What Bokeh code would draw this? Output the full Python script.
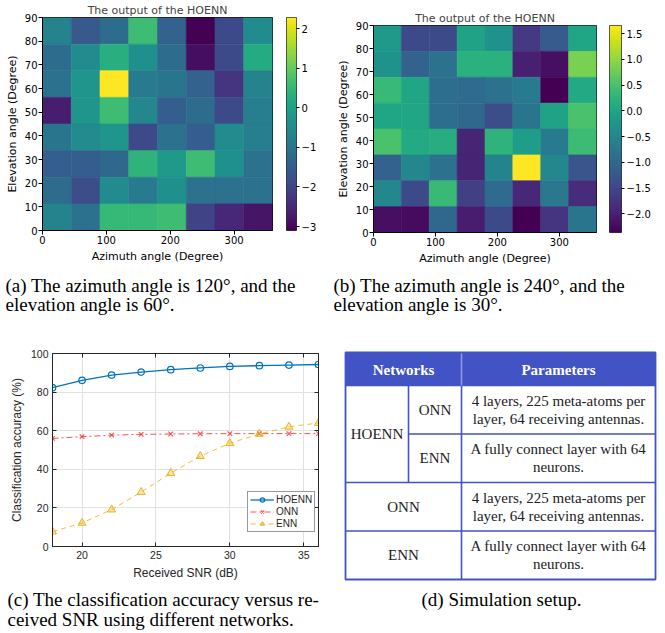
import numpy as np
from bokeh.plotting import figure
from bokeh.models import (ColumnDataSource, LinearColorMapper, FixedTicker,
                          CustomJSTickFormatter, Range1d, LinearAxis, Legend, LegendItem)
from bokeh.layouts import column, row
from bokeh.embed import file_html
from bokeh.resources import INLINE
from bokeh.palettes import Viridis256
from bokeh.core.properties import value

# ---------------- data ----------------
azimuth_bins = 8
elevation_bins = 8
azimuth_max = 360
elevation_max = 90
az_ticks = [0, 100, 200, 300]
el_ticks = [0, 10, 20, 30, 40, 50, 60, 70, 80, 90]

# output of the HOENN, case (a); rows from top (high elevation) to bottom
output_a = [
    [-0.7, -1.6, -1.2, 0.6, -1.4, -3.1, -1.9, -0.5],
    [-1.2, -0.5, 0.3, -0.4, -1.2, -2.9, -1.9, 0.2],
    [-1.1, -0.3, 2.28, -0.9, -1.0, -1.4, -2.3, -0.7],
    [-2.7, -0.3, 0.6, -0.6, -1.5, -1.2, -1.9, -0.8],
    [-1.0, -0.5, -0.3, -1.9, -1.1, -1.5, -0.5, -0.8],
    [-1.5, -1.5, -1.3, 0.4, -0.2, 0.6, -0.4, -1.1],
    [-1.2, -1.8, -0.5, -0.9, -0.4, -1.1, -1.1, -1.1],
    [-0.7, -1.1, 0.5, 0.5, 0.6, -2.0, -2.5, -2.8],
]
range_a = (-3.1, 2.28)
cbar_ticks_a = [-3, -2, -1, 0, 1, 2]

# output of the HOENN, case (b)
output_b = [
    [-0.2, -1.45, -1.45, -0.05, -0.3, -1.7, -1.2, 0.0],
    [-0.3, -1.1, -0.85, 0.2, 0.2, -2.0, -2.2, 0.85],
    [0.35, 0.0, -0.9, -0.95, -0.85, -0.7, -2.36, 0.1],
    [0.0, 0.0, -0.9, -1.0, -1.4, -0.8, -0.05, 0.5],
    [0.5, 0.1, 0.15, -1.95, 0.25, -0.1, -0.7, 0.4],
    [-1.1, -0.5, -0.85, -1.95, -0.55, 1.66, -0.5, -1.3],
    [-0.5, -1.45, 0.35, -1.6, -0.95, -1.9, -0.75, -1.85],
    [-2.2, -2.25, -1.0, -2.05, -1.45, -2.36, -1.75, -0.8],
]
range_b = (-2.36, 1.66)
cbar_ticks_b = [-2.0, -1.5, -1.0, -0.5, 0.0, 0.5, 1.0, 1.5]

# classification accuracy versus SNR
snr_db = [18, 20, 22, 24, 26, 28, 30, 32, 34, 36]
acc_hoenn = [82.3, 86.1, 88.8, 90.4, 91.6, 92.5, 93.3, 93.7, 94.0, 94.3]
acc_onn = [56.0, 56.9, 57.7, 58.1, 58.3, 58.4, 58.5, 58.5, 58.5, 58.5]
acc_enn = [7.7, 12.2, 19.1, 28.2, 38.0, 46.8, 53.5, 58.3, 62.0, 64.0]
snr_ticks = [20, 25, 30, 35]
acc_ticks = [0, 20, 40, 60, 80, 100]
series_names = ["HOENN", "ONN", "ENN"]

# simulation setup table
table_header = ["Networks", "Parameters"]
table_group = "HOENN"
table_sub_nets = ["ONN", "ENN"]
table_single_nets = ["ONN", "ENN"]
param_onn = ["4 layers, 225 meta-atoms per", "layer, 64 receiving antennas."]
param_enn = ["A fully connect layer with 64", "neurons."]

caption_a = ["(a) The azimuth angle is 120\u00b0, and the", "elevation angle is 60\u00b0."]
caption_b = ["(b) The azimuth angle is 240\u00b0, and the", "elevation angle is 30\u00b0."]
caption_c = ["(c) The classification accuracy versus re-", "ceived SNR using different networks."]
caption_d = ["(d) Simulation setup."]

MPL_FONT = "DejaVu Sans"
ML_FONT = "Liberation Sans"
SERIF = "Liberation Serif"
MINUS = "\u2212"


def minus_formatter(decimals):
    return CustomJSTickFormatter(
        code="return (tick < 0 ? '%s' : '') + Math.abs(tick).toFixed(%d);" % (MINUS, decimals))


def heatmap(values, vrange, width, height, bl, br, bt, bb):
    mapper = LinearColorMapper(palette=Viridis256, low=vrange[0], high=vrange[1])
    cw = azimuth_max / azimuth_bins
    ch = elevation_max / elevation_bins
    xs, ys, vs = [], [], []
    for r, rowvals in enumerate(values):
        for c, v in enumerate(rowvals):
            xs.append((c + 0.5) * cw)
            ys.append(elevation_max - (r + 0.5) * ch)
            vs.append(v)
    src = ColumnDataSource(dict(az=xs, el=ys, val=vs))
    p = figure(width=width, height=height, x_range=Range1d(0, azimuth_max),
               y_range=Range1d(0, elevation_max), toolbar_location=None,
               output_backend="svg", title="The output of the HOENN", frame_align=False,
               min_border_left=bl, min_border_right=br, min_border_top=bt,
               min_border_bottom=bb)
    cmap = {"field": "val", "transform": mapper}
    p.rect(x="az", y="el", width=cw, height=ch, source=src, fill_color=cmap,
           line_color=cmap, line_width=0.6)
    p.grid.visible = False
    p.outline_line_color = "black"
    p.outline_line_width = 1
    p.title.text_font = MPL_FONT
    p.title.text_font_size = "11px"
    p.title.text_font_style = "normal"
    p.title.align = "center"
    p.title.standoff = 2
    p.xaxis.ticker = FixedTicker(ticks=az_ticks)
    p.yaxis.ticker = FixedTicker(ticks=el_ticks)
    p.xaxis.axis_label = "Azimuth angle (Degree)"
    p.yaxis.axis_label = "Elevation angle (Degree)"
    for ax in (p.xaxis[0], p.yaxis[0]):
        ax.axis_label_text_font = MPL_FONT
        ax.axis_label_text_font_size = "11px"
        ax.axis_label_text_font_style = "normal"
        ax.axis_label_standoff = 3
        ax.major_label_text_font = MPL_FONT
        ax.major_label_text_font_size = "10px"
        ax.major_label_standoff = 1
        ax.major_tick_out = 4
        ax.major_tick_in = 0
        ax.minor_tick_line_color = None
        ax.axis_line_color = "black"
        ax.major_tick_line_color = "black"
        ax.major_label_text_color = "black"
        ax.axis_label_text_color = "black"
    return p, mapper


def colorbar(mapper, vrange, ticks, decimals, width, height, bar_w, bt, bb):
    lo, hi = vrange
    p = figure(width=width, height=height, x_range=Range1d(0, 1), y_range=Range1d(lo, hi),
               toolbar_location=None, output_backend="svg", x_axis_location=None,
               y_axis_location="right", min_border_left=0, frame_align=False,
               min_border_right=width - bar_w, min_border_top=bt, min_border_bottom=bb)
    grad = np.linspace(lo, hi, 256).reshape(256, 1)
    p.image(image=[grad], x=0, y=lo, dw=1, dh=hi - lo, color_mapper=mapper)
    p.grid.visible = False
    p.outline_line_color = "#333333"
    p.outline_line_width = 1
    ax = p.yaxis[0]
    ax.ticker = FixedTicker(ticks=ticks)
    ax.formatter = minus_formatter(decimals)
    ax.major_label_text_font = MPL_FONT
    ax.major_label_text_font_size = "10px"
    ax.major_label_text_color = "black"
    ax.major_label_standoff = 2
    ax.major_tick_out = 3
    ax.major_tick_in = 0
    ax.minor_tick_line_color = None
    ax.axis_line_color = None
    ax.major_tick_line_color = "black"
    return p


def caption(lines, width, height, x0, y0, dy):
    p = figure(width=width, height=height, x_range=Range1d(0, width),
               y_range=Range1d(height, 0), min_border=0, toolbar_location=None,
               output_backend="svg", x_axis_location=None, y_axis_location=None,
               outline_line_color=None, frame_align=False)
    p.grid.visible = False
    p.text(x=[x0] * len(lines), y=[y0 + i * dy for i in range(len(lines))], text=lines,
           text_font=value(SERIF), text_font_size="19px", text_baseline="middle",
           text_align="left", text_color="black")
    return p


# ---------------- top row: heatmaps ----------------
pa, map_a = heatmap(output_a, range_a, 286, 270, 42, 14, 17, 40)
cba = colorbar(map_a, range_a, cbar_ticks_a, 0, 44, 270, 10, 17, 40)
pb, map_b = heatmap(output_b, range_b, 279, 270, 43, 13, 25, 38)
cbb = colorbar(map_b, range_b, cbar_ticks_b, 1, 55, 270, 12, 25, 38)

capa = caption(caption_a, 330, 50, 5, 15, 19)
capb = caption(caption_b, 334, 50, 3, 15, 19)

# ---------------- line chart ----------------
pc = figure(width=335, height=262, x_range=Range1d(18, 36), y_range=Range1d(0, 100),
            toolbar_location=None, output_backend="svg", frame_align=False,
            min_border_left=52, min_border_right=17, min_border_top=33, min_border_bottom=35)
pc.outline_line_color = "#262626"
pc.outline_line_width = 1
l1 = pc.line(snr_db, acc_hoenn, line_color="#0072BD", line_width=1.3)
s1 = pc.scatter(snr_db, acc_hoenn, marker="circle", size=6.5, line_color="#0072BD",
                fill_color=None, line_width=1.2)
l2 = pc.line(snr_db, acc_onn, line_color="#FF3030", line_width=1.0, line_alpha=0.85,
             line_dash="6 3 2 3")
s2 = pc.scatter(snr_db, acc_onn, marker="x", size=6.5, line_color="#FF3030",
                line_width=1.1, line_alpha=0.85)
l3 = pc.line(snr_db, acc_enn, line_color="#EDB120", line_width=1.0, line_alpha=0.85,
             line_dash="5 4")
s3 = pc.scatter(snr_db, acc_enn, marker="triangle", size=8, line_color="#EDB120",
                fill_color="#EDB120", fill_alpha=0.35, line_width=1.0)
pc.xaxis.ticker = FixedTicker(ticks=snr_ticks)
pc.yaxis.ticker = FixedTicker(ticks=acc_ticks)
pc.xgrid.ticker = FixedTicker(ticks=snr_ticks)
pc.ygrid.ticker = FixedTicker(ticks=acc_ticks)
pc.grid.grid_line_color = "#e2e2e2"
pc.grid.grid_line_width = 1
pc.xaxis.axis_label = "Received SNR (dB)"
pc.yaxis.axis_label = "Classification accuracy (%)"
for ax in (pc.xaxis[0], pc.yaxis[0]):
    ax.axis_label_text_font = ML_FONT
    ax.axis_label_text_font_size = "12px"
    ax.axis_label_text_font_style = "normal"
    ax.axis_label_text_color = "#262626"
    ax.axis_label_standoff = 4
    ax.major_label_text_font = ML_FONT
    ax.major_label_text_font_size = "10.5px"
    ax.major_label_text_color = "#262626"
    ax.major_label_standoff = 4
    ax.major_tick_in = 4
    ax.major_tick_out = 0
    ax.minor_tick_line_color = None
    ax.axis_line_color = "#262626"
    ax.major_tick_line_color = "#262626"
for loc, tks in (("above", snr_ticks), ("right", acc_ticks)):
    ax = LinearAxis(ticker=FixedTicker(ticks=tks),
                    formatter=CustomJSTickFormatter(code="return '';"),
                    major_label_text_font_size="0px", major_tick_in=4, major_tick_out=0,
                    minor_tick_line_color=None, axis_line_color="#262626",
                    major_tick_line_color="#262626", major_label_standoff=0)
    pc.add_layout(ax, loc)
legend = Legend(items=[LegendItem(label=series_names[0], renderers=[l1, s1]),
                       LegendItem(label=series_names[1], renderers=[l2, s2]),
                       LegendItem(label=series_names[2], renderers=[l3, s3])],
                location=(195, 14))
legend.label_text_font = ML_FONT
legend.label_text_font_size = "10px"
legend.label_text_color = "#262626"
legend.glyph_width = 24
legend.glyph_height = 11
legend.label_height = 11
legend.label_standoff = 2
legend.spacing = 1
legend.padding = 2
legend.margin = 0
legend.border_line_color = "#333333"
legend.border_line_width = 1
legend.background_fill_color = "white"
legend.background_fill_alpha = 1
pc.add_layout(legend)

# ---------------- table ----------------
TW, TH = 329, 262
pt = figure(width=TW, height=TH, x_range=Range1d(0, TW), y_range=Range1d(TH, 0),
            min_border=0, toolbar_location=None, output_backend="svg", frame_align=False,
            x_axis_location=None, y_axis_location=None, outline_line_color=None)
pt.grid.visible = False
BLUE = "#4254C5"
t_left, t_right, t_top = 10, 320, 32
col_sub, col_par = 73, 126
hdr_bottom = t_top + 33
row_h = 48.5
rows_y = [hdr_bottom + k * row_h for k in range(5)]
t_bottom = rows_y[4]
pt.quad(left=[t_left], right=[t_right], top=[t_top], bottom=[hdr_bottom],
        fill_color=BLUE, line_color=None)
# grid lines of the table
x0s = [t_left, col_sub, t_left, t_left, col_par, col_sub, col_par]
y0s = [hdr_bottom, rows_y[1], rows_y[2], rows_y[3], hdr_bottom, hdr_bottom, t_top]
x1s = [t_right, t_right, t_right, t_right, col_par, col_sub, col_par]
y1s = [hdr_bottom, rows_y[1], rows_y[2], rows_y[3], t_bottom, rows_y[2], hdr_bottom]
cols = [BLUE] * 6 + ["#8C98E0"]
pt.segment(x0=x0s, y0=y0s, x1=x1s, y1=y1s, line_color=cols, line_width=1.6)
pt.quad(left=[t_left], right=[t_right], top=[t_top], bottom=[t_bottom],
        fill_color=None, line_color=BLUE, line_width=1.8)
# header
pt.text(x=[(t_left + col_par) / 2, (col_par + t_right) / 2],
        y=[(t_top + hdr_bottom) / 2 + 1] * 2, text=table_header,
        text_font=value(SERIF), text_font_size="15px", text_font_style="bold",
        text_color="white", text_align="center", text_baseline="middle")
# network names
name_x = [(t_left + col_sub) / 2, (col_sub + col_par) / 2, (col_sub + col_par) / 2,
          (t_left + col_par) / 2, (t_left + col_par) / 2]
name_y = [(rows_y[0] + rows_y[2]) / 2, (rows_y[0] + rows_y[1]) / 2,
          (rows_y[1] + rows_y[2]) / 2, (rows_y[2] + rows_y[3]) / 2,
          (rows_y[3] + rows_y[4]) / 2]
names = [table_group] + table_sub_nets + table_single_nets
pt.text(x=name_x, y=name_y, text=names, text_font=value(SERIF), text_font_size="15px",
        text_color="#222222", text_align="center", text_baseline="middle")
# parameters
params = [param_onn, param_enn, param_onn, param_enn]
px, py, ptxt = [], [], []
for k, lines in enumerate(params):
    mid = (rows_y[k] + rows_y[k + 1]) / 2
    for i, ln in enumerate(lines):
        px.append((col_par + t_right) / 2)
        py.append(mid + (i - 0.5) * 18)
        ptxt.append(ln)
pt.text(x=px, y=py, text=ptxt, text_font=value(SERIF), text_font_size="15px",
        text_color="#222222", text_align="center", text_baseline="middle")

capc = caption(caption_c, 335, 50, 7, 17, 20)
capd = caption(caption_d, 329, 50, 86, 17, 20)

layout = column(row(pa, cba, pb, cbb), row(capa, capb), row(pc, pt), row(capc, capd))

with open("out.html", "w", encoding="utf-8") as f:
    f.write(file_html(layout, INLINE))
